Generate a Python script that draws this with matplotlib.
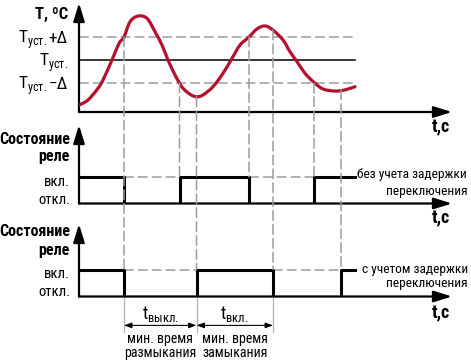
import matplotlib
matplotlib.use("Agg")
import matplotlib.pyplot as plt
from matplotlib import font_manager as fm
from matplotlib.patches import ConnectionPatch, PathPatch
from matplotlib.path import Path
import numpy as np

plt.rcParams["lines.scale_dashes"] = False

# temperature curve (time in arbitrary units, temperature in units of delta around T_set)
curve_t = [0, 9, 19, 24, 33, 40, 45, 51, 59, 68, 76, 83, 89, 96, 100.5, 104, 111,
           117.5, 124, 134, 144, 153, 161, 170, 178, 186, 194, 204, 211, 218, 226,
           235, 244, 256, 266, 276]
curve_T = [-1.96, -1.74, -1.23, -0.87, 0.0, 0.72, 1.0, 1.66, 1.91, 1.81, 1.23, 0.65,
           0.0, -0.65, -1.0, -1.23, -1.49, -1.60, -1.52, -1.16, -0.58, 0.07, 0.65,
           1.0, 1.35, 1.48, 1.30, 0.87, 0.36, -0.07, -0.58, -0.97, -1.26, -1.35,
           -1.30, -1.16]
T_levels = [1.0, 0.0, -1.0]
T_labels = ["+Δ", "", "−Δ"]
line_end = 276

# relay states: 1 = вкл., 0 = откл.
relay1_t = [0, 45, 100.5, 170, 235, 276]
relay1_s = [1, 0, 1, 0, 1, 1]
relay2_t = [0, 45, 117.5, 194, 262, 276]
relay2_s = [1, 0, 1, 0, 1, 1]

# dashed guide lines: time and the level on the curve where they start
guide1_t = [100.5, 170, 235]
guide1_T = [-1.0, 1.0, -1.0]
guide2_t = [45, 117.5, 194, 262]
guide2_T = [1.0, -1.60, 1.30, -1.30]

RED = "#b3102b"
GRAY = "#9c9c9c"
W, H = 471, 361


def pick_condensed(bold):
    prefs = ["liberation", "roboto", "noto sans", "dejavu", "open sans", "lato", ""]
    best = None
    for f in fm.fontManager.ttflist:
        key = (f.name + " " + f.fname).lower()
        if not ("condensed" in key or "narrow" in key):
            continue
        if any(w in key for w in ["semi", "extra", "ultra", "italic", "oblique", "mono",
                                   "light", "thin", "medium", "black", "cjk"]):
            continue
        w = f.weight if isinstance(f.weight, int) else (700 if "bold" in str(f.weight) else 400)
        if bold != (w >= 600):
            continue
        rank = next(i for i, p in enumerate(prefs) if p in key)
        if best is None or rank < best[0]:
            best = (rank, f)
    return best[1] if best else None


reg = pick_condensed(False)
bld = pick_condensed(True)
if reg is not None:
    FP = dict(fname=reg.fname)
    plt.rcParams["mathtext.fontset"] = "custom"
    plt.rcParams["mathtext.rm"] = f"{reg.name}:stretch={reg.stretch}"
    scale = 1.0
else:
    FP = dict(family="DejaVu Sans")
    scale = 0.85
FB = dict(fname=bld.fname) if bld is not None else dict(family="DejaVu Sans", weight="bold")


def font(size, bold=False):
    return fm.FontProperties(size=size * scale, **(FB if bold else FP))


fig = plt.figure(figsize=(W / 100, H / 100), dpi=100)


def add_panel(top, bottom):
    ax = fig.add_axes([79 / W, (H - bottom) / H, 373 / W, (bottom - top) / H])
    ax.set_xlim(0, 373)
    for s in ax.spines.values():
        s.set_visible(False)
    ax.set_xticks([])
    ax.set_yticks([])
    ax.patch.set_alpha(0)
    arrow = dict(arrowstyle="-|>,head_length=0.55,head_width=0.17", lw=1.6,
                 color="black", mutation_scale=20, shrinkA=0, shrinkB=0)
    ax.annotate("", xy=(1, 0), xytext=(0, 0), xycoords="axes fraction", arrowprops=arrow)
    ax.annotate("", xy=(0, 1), xytext=(0, 0), xycoords="axes fraction", arrowprops=arrow)
    return ax


def corner_text(ax, s, xy, dx, dy, fp, **kw):
    ax.annotate(s, xy=xy, xycoords="axes fraction", xytext=(dx, dy),
                textcoords="offset pixels", fontproperties=fp, **kw)


ax1 = add_panel(3, 112)
ax1.set_ylim(-52 / 23, 57 / 23)
ax2 = add_panel(125, 203.5)
ax2.set_ylim(0, 78.5 / 26.5)
ax3 = add_panel(224, 296.5)
ax3.set_ylim(0, 72.5 / 27)

# temperature panel
for lev in T_levels:
    if lev == 0:
        ax1.plot([0, line_end], [lev, lev], color="black", lw=1.1)
    else:
        ax1.plot([0, line_end], [lev, lev], color=GRAY, lw=1.1, dashes=(7, 3))

# smooth the read-off points with Catmull-Rom style bezier segments
pts = np.column_stack([curve_t, curve_T])
verts, codes = [pts[0]], [Path.MOVETO]
for i in range(len(pts) - 1):
    p0 = pts[max(i - 1, 0)]
    p1, p2 = pts[i], pts[i + 1]
    p3 = pts[min(i + 2, len(pts) - 1)]
    verts += [p1 + (p2 - p0) / 6, p2 - (p3 - p1) / 6, p2]
    codes += [Path.CURVE4] * 3
ax1.add_patch(PathPatch(Path(verts, codes), fill=False, edgecolor=RED, lw=2.3,
                        capstyle="round", zorder=5))

for lev, lab in zip(T_levels, T_labels):
    ax1.annotate(r"T$_{\mathregular{уст.}}$", xy=(0, lev), xycoords="data",
                 xytext=(-11 - (21 if lab else 0), -6), textcoords="offset pixels",
                 ha="right", va="baseline", fontproperties=font(12.5))
    if lab:
        ax1.annotate(lab, xy=(0, lev), xycoords="data", xytext=(-11, -6),
                     textcoords="offset pixels", ha="right", va="baseline",
                     fontproperties=font(12.5))
corner_text(ax1, "Т, ºС", (0, 1), -11, -11, font(12, True), ha="right", va="center")


def draw_relay(ax, ts, ss):
    ax.step(ts, ss, where="post", color="black", lw=2.2, zorder=5)
    for i in range(len(ts) - 1):
        if ss[i] == 0:
            ax.plot([ts[i], ts[i + 1]], [1, 1], color=GRAY, lw=1.1, dashes=(7, 3))
    ax.annotate("вкл.", xy=(0, 1), xytext=(-9, -5), textcoords="offset pixels",
                ha="right", va="center", fontproperties=font(10.5))
    ax.annotate("откл.", xy=(0, 0), xytext=(-9, 4), textcoords="offset pixels",
                ha="right", va="center", fontproperties=font(10.5))


draw_relay(ax2, relay1_t, relay1_s)
draw_relay(ax3, relay2_t, relay2_s)

for ax, y1, y2 in [(ax2, -15, -31), (ax3, -8, -26)]:
    corner_text(ax, "Состояние", (0, 1), -9, y1, font(11.5, True), ha="right", va="center")
    corner_text(ax, "реле", (0, 1), -9, y2, font(11.5, True), ha="right", va="center")

ax2.text(278, 1.08, "без учета задержки", ha="left", va="center", fontproperties=font(9.6))
ax2.text(389, 0.47, "переключения", ha="right", va="center", fontproperties=font(9.6))
ax3.text(283, 1.0, "с учетом задержки", ha="left", va="center", fontproperties=font(9.6))
ax3.text(389, 0.5, "переключения", ha="right", va="center", fontproperties=font(9.6))

for ax, dy in [(ax1, -15), (ax2, -15), (ax3, -17)]:
    corner_text(ax, "t,c", (1, 0), -11, dy, font(13, True), ha="center", va="center")

for tlist, Tlist, target in [(guide1_t, guide1_T, ax2), (guide2_t, guide2_T, ax3)]:
    for t, T in zip(tlist, Tlist):
        cp = ConnectionPatch((t, T), (t, 1), coordsA=ax1.transData,
                             coordsB=target.transData, color=GRAY, lw=1.1,
                             linestyle=(0, (7, 3)), zorder=1)
        fig.add_artist(cp)

# minimum off / on time dimensions
dims = [(45, 117.5, r"t$_{\mathregular{выкл.}}$", "мин. время\nразмыкания"),
        (117.5, 194, r"t$_{\mathregular{вкл.}}$", "мин. время\nзамыкания")]
for t in [45, 117.5, 194]:
    ax3.plot([t, t], [0, -1.3], color="#b0b0b0", lw=0.9, clip_on=False)
for a, b, lab, desc in dims:
    ax3.annotate("", xy=(b, -1.07), xytext=(a, -1.07), xycoords="data",
                 arrowprops=dict(arrowstyle="<|-|>,head_length=0.5,head_width=0.18",
                                 mutation_scale=9, lw=0.8, color="black",
                                 shrinkA=0, shrinkB=0), annotation_clip=False)
    ax3.text((a + b) / 2, -0.66, lab, ha="center", va="center", fontproperties=font(13))
    ax3.text((a + b) / 2, -1.84, desc, ha="center", va="center",
             fontproperties=font(10), linespacing=1.0)

fig.savefig("out.png", dpi=100)
